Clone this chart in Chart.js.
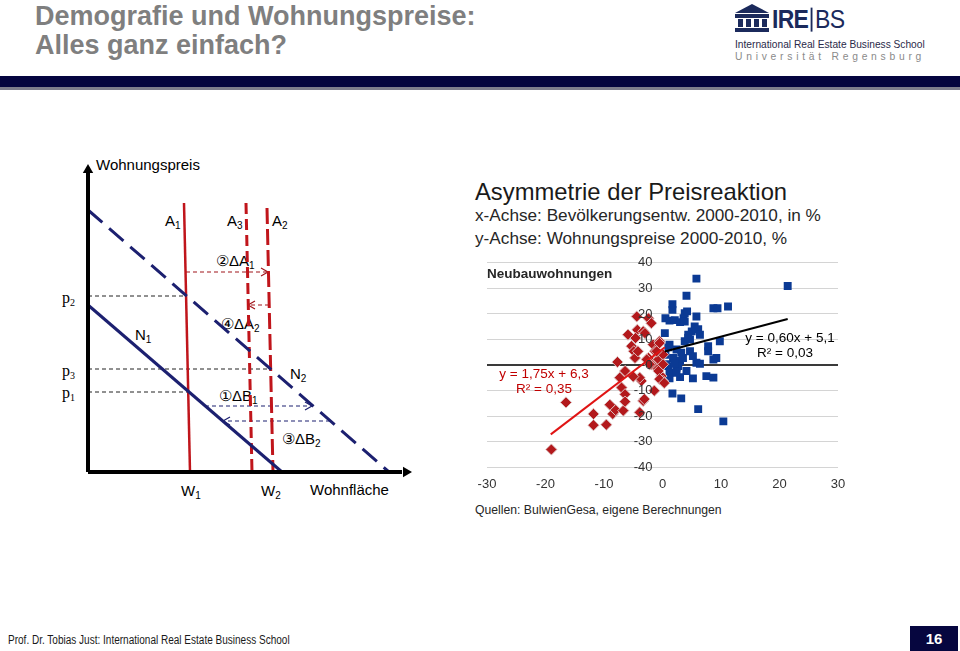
<!DOCTYPE html>
<html>
<head>
<meta charset="utf-8">
<script src="https://cdn.jsdelivr.net/npm/chart.js@4.4.1/dist/chart.umd.min.js"></script>
<style>
  html,body{margin:0;padding:0;background:#fff;}
  body{width:960px;height:651px;position:relative;overflow:hidden;font-family:"Liberation Sans",Arial,sans-serif;}
  .abs{position:absolute;white-space:nowrap;}
  .lb{position:absolute;white-space:nowrap;transform:translateY(-50%);font-size:15px;color:#000;line-height:1.15;}
  .lb sub{font-size:10px;vertical-align:-3px;line-height:0;}
  .serif{font-family:"Liberation Serif","Times New Roman",serif;}
</style>
</head>
<body>
<!-- header -->
<div class="lb" style="left:35px;top:17px;font-size:27px;font-weight:bold;color:#7f7f7f;">Demografie und Wohnungspreise:</div>
<div class="lb" style="left:35px;top:46px;font-size:27px;font-weight:bold;color:#7f7f7f;">Alles ganz einfach?</div>
<div class="abs" style="left:0;top:76px;width:960px;height:11px;background:#04043f;"></div>
<div class="abs" style="left:0;top:87px;width:960px;height:3px;background:#7d7d8d;"></div>

<!-- logo -->
<svg class="abs" style="left:733px;top:2px;" width="40" height="32" viewBox="0 0 40 32">
  <polygon points="2,11 19,2 36,11" fill="#1b2a5c"/>
  <rect x="2" y="12" width="34" height="4" fill="#1b2a5c"/>
  <rect x="5" y="17" width="5" height="8" fill="#1b2a5c"/>
  <rect x="13" y="17" width="5" height="8" fill="#1b2a5c"/>
  <rect x="21" y="17" width="5" height="8" fill="#1b2a5c"/>
  <rect x="29" y="17" width="5" height="8" fill="#1b2a5c"/>
  <rect x="2" y="26" width="34" height="4" fill="#1b2a5c"/>
</svg>
<div class="lb" style="left:772px;top:19px;font-size:25px;color:#1b2a5c;letter-spacing:-0.8px;transform:translateY(-50%) scaleX(0.92);transform-origin:left center;"><b>IRE</b><span style="display:inline-block;width:1.5px;height:24px;background:#1b2a5c;margin:0 3px;vertical-align:-4px;"></span>BS</div>
<div class="lb" style="left:735px;top:45px;font-size:10.2px;color:#2a2a4a;">International Real Estate Business School</div>
<div class="lb" style="left:735px;top:57px;font-size:10.3px;color:#8a8a8a;letter-spacing:3.75px;">Universität Regensburg</div>

<!-- left diagram labels -->
<div class="lb" style="left:96px;top:165px;">Wohnungspreis</div>
<div class="lb" style="left:165px;top:221px;">A<sub>1</sub></div>
<div class="lb" style="left:227px;top:221px;">A<sub>3</sub></div>
<div class="lb" style="left:272px;top:221px;">A<sub>2</sub></div>
<div class="lb" style="left:216px;top:261px;">②ΔA<sub>1</sub></div>
<div class="lb" style="left:221px;top:324px;">④ΔA<sub>2</sub></div>
<div class="lb" style="left:135px;top:335px;">N<sub>1</sub></div>
<div class="lb" style="left:219px;top:396px;">①ΔB<sub>1</sub></div>
<div class="lb" style="left:290px;top:374px;">N<sub>2</sub></div>
<div class="lb" style="left:282px;top:439px;">③ΔB<sub>2</sub></div>
<div class="lb" style="left:181px;top:491px;">W<sub>1</sub></div>
<div class="lb" style="left:261px;top:491px;">W<sub>2</sub></div>
<div class="lb" style="left:310px;top:490px;">Wohnfläche</div>
<div class="lb serif" style="left:62px;top:298px;font-size:16px;">p<sub>2</sub></div>
<div class="lb serif" style="left:62px;top:371px;font-size:16px;">p<sub>3</sub></div>
<div class="lb serif" style="left:62px;top:393px;font-size:16px;">p<sub>1</sub></div>

<!-- right panel texts -->
<div class="lb" style="left:475px;top:192px;font-size:23.8px;color:#1a1a1a;">Asymmetrie der Preisreaktion</div>
<div class="lb" style="left:475px;top:216px;font-size:17.2px;color:#262626;">x-Achse: Bevölkerungsentw. 2000-2010, in %</div>
<div class="lb" style="left:475px;top:239px;font-size:17.2px;color:#262626;">y-Achse: Wohnungspreise 2000-2010, %</div>
<div class="lb" style="left:475px;top:510px;font-size:12.2px;color:#262626;">Quellen: BulwienGesa, eigene Berechnungen</div>

<!-- charts -->
<div class="abs" style="left:40px;top:140px;width:390px;height:370px;"><canvas id="dg" width="390" height="370"></canvas></div>
<div class="abs" style="left:440px;top:245px;width:420px;height:256px;"><canvas id="sc" width="420" height="256"></canvas></div>

<!-- labels inside scatter -->
<div class="lb" style="left:487px;top:274px;font-size:13.5px;font-weight:bold;color:#262626;">Neubauwohnungen</div>
<div class="lb" style="left:544px;top:374px;font-size:13.5px;color:#c00000;transform:translate(-50%,-50%);">y = 1,75x + 6,3</div>
<div class="lb" style="left:544px;top:389px;font-size:13.5px;color:#c00000;transform:translate(-50%,-50%);">R² = 0,35</div>
<div class="lb" style="left:790px;top:338px;font-size:13.5px;color:#000;transform:translate(-50%,-50%);">y = 0,60x + 5,1</div>
<div class="lb" style="left:785px;top:353px;font-size:13.5px;color:#000;transform:translate(-50%,-50%);">R² = 0,03</div>

<!-- footer -->
<div class="lb" style="left:8px;top:641px;font-size:12px;color:#1a1a1a;transform:translateY(-50%) scaleX(0.835);transform-origin:left center;">Prof. Dr. Tobias Just: International Real Estate Business School</div>
<div class="abs" style="left:910px;top:626px;width:48px;height:25px;background:#06063f;color:#fff;font-weight:bold;font-size:15px;line-height:25px;text-align:center;">16</div>

<script>
// ---------------- scatter data ----------------
const xTicks = [-30, -20, -10, 0, 10, 20, 30];
const yTicks = [-40, -30, -20, -10, 0, 10, 20, 30, 40];

// Neubauwohnungen (red diamonds)
const redX = [-19.0,-16.5,-11.8,-11.8,-9.6,-9.0,-8.5,-8.0,-7.7,-7.3,-7.0,-6.7,-6.4,-6.4,-6.4,-5.9,-5.3,-4.9,-4.7,-4.4,-4.3,-4.6,-4.2,-3.9,-3.6,-3.3,-3.3,-3.0,-2.4,-1.9,-1.6,-1.4,-1.3,-1.0,-0.7,-0.5,-0.2,0.1,-2.4,-1.9,-3.9,-0.5,0.1,-1.0,-0.7,-0.5,0.3,-2.7,-2.2,0.1,-5.0,-3.1];
const redY = [-33.0,-14.6,-19.1,-23.5,-23.3,-15.5,-19.1,-17.6,1.2,-4.9,-8.8,-17.8,-2.3,-11.4,-14.3,11.9,7.4,5.4,2.8,19.0,13.8,10.6,5.4,-18.5,-6.2,13.2,-14.0,12.5,18.3,16.4,8.0,-10.0,5.4,-1.0,2.2,9.3,-4.3,-6.2,2.8,0.3,-4.9,8.6,4.1,5.4,-2.3,-5.5,-7.0,2.2,0.3,0.3,-4.5,-13.3];

// Bestand (blue squares)
const blueX = [5.8,21.4,4.1,1.7,1.7,8.7,9.4,11.2,5.8,0.5,1.2,2.1,3.0,3.6,3.8,3.8,4.2,5.5,5.0,6.1,0.4,4.4,6.4,1.2,3.8,4.7,4.4,7.8,9.8,7.8,9.2,8.7,2.4,3.2,4.7,5.2,1.8,3.0,5.8,6.4,1.0,2.4,4.1,1.2,3.0,5.2,7.5,8.7,1.2,2.4,1.0,0.7,2.7,1.7,3.2,6.1,10.4,2.1,3.5,0.5];
const blueY = [33.8,30.9,27.1,23.8,21.6,22.2,22.2,22.9,19.0,18.3,17.4,17.6,16.8,18.3,17.0,20.3,21.0,15.1,13.2,14.0,12.5,11.9,11.9,8.0,9.3,10.0,10.6,7.4,9.3,5.4,2.8,2.2,6.1,4.8,5.4,3.5,2.8,1.6,0.9,0.5,-0.4,-1.0,-2.3,-3.0,-4.7,-5.2,-4.3,-4.9,-5.2,-3.0,7.0,0.3,-0.4,-11.1,-13.0,-17.2,-22.0,0.5,2.8,4.0];

// trend line end points (as drawn)
const redTrendX = [-19.1, 0.4];
const redTrendY = [-27.1, 7.0];
const blackTrendX = [0.4, 21.4];
const blackTrendY = [5.3, 18.0];

// ---------------- diagram data (conceptual lines, diagram units) ----------------
const axisPrice = [[0,0],[0,300]];
const axisArea = [[0,0],[314,0]];
const demandN1 = [[0,167],[194,0]];
const demandN2 = [[0,262],[301,0]];
const supplyA1 = [[96,269],[102,0]];
const supplyA3 = [[158,269],[164,0]];
const supplyA2 = [[179,264],[185,0]];
const priceP2 = [[0,176],[97,176]];
const priceP3 = [[0,103],[182,103]];
const priceP1 = [[0,80],[100,80]];
const shiftA1 = [[98,200],[180,200]];
const shiftA2 = [[181,167],[160,167]];
const shiftB1 = [[117,66],[224,66]];
const shiftB2 = [[242,51],[135,51]];

const FONT = '"Liberation Sans", Arial, sans-serif';
const NAVY = '#1c2070';
const RED = '#c0151b';

const zip = (xs, ys) => xs.map((x, i) => ({x, y: ys[i]}));
const pts = arr => arr.map(p => ({x: p[0], y: p[1]}));

// ---------------- scatter chart ----------------
new Chart(document.getElementById('sc'), {
  type: 'scatter',
  data: {
    datasets: [
      {type:'line', data: zip(blackTrendX, blackTrendY), borderColor:'#000', borderWidth:2, pointRadius:0, fill:false},
      {type:'line', data: zip(redTrendX, redTrendY), borderColor:'#e01414', borderWidth:2, pointRadius:0, fill:false},
      {data: zip(redX, redY), pointStyle:'rectRot', pointRadius:5.6, backgroundColor:'#b3191c', borderColor:'rgba(220,195,195,0.95)', borderWidth:1},
      {data: zip(blueX, blueY), pointStyle:'rect', pointRadius:5.6, backgroundColor:'#0b3a94', borderWidth:0}
    ]
  },
  options: {
    responsive:false, animation:false, devicePixelRatio:1,
    layout:{padding:{left:47, right:22, top:16, bottom:0}},
    plugins:{legend:{display:false}, tooltip:{enabled:false}},
    scales:{
      x:{type:'linear', position:'bottom', min:xTicks[0], max:xTicks[xTicks.length-1],
         afterBuildTicks: a => { a.ticks = xTicks.map(v => ({value:v})); },
         grid:{display:false, drawTicks:false}, border:{display:false},
         ticks:{font:{family:FONT, size:13}, color:'#333', padding:9}},
      y:{type:'linear', position:{x:-1.7}, min:yTicks[0], max:yTicks[yTicks.length-1],
         afterBuildTicks: a => { a.ticks = yTicks.map(v => ({value:v})); },
         grid:{color: c => c.tick && c.tick.value === 0 ? '#3a3a3a' : '#d4d4d4',
               lineWidth: c => c.tick && c.tick.value === 0 ? 2 : 1, drawTicks:false},
         border:{display:false},
         ticks:{font:{family:FONT, size:13}, color:'#333', padding:10, z:1}}
    }
  }
});

// ---------------- diagram chart ----------------
const lineDs = (arr, color, width, dash) => ({data: pts(arr), showLine:true, borderColor:color, borderWidth:width,
  borderDash: dash || [], pointRadius:0, fill:false, clip:false, tension:0});
const chevron = (arr, color) => {
  const tip = arr[1], dir = Math.sign(arr[1][0] - arr[0][0]);
  return lineDs([[tip[0] - dir*7, tip[1] + 4], tip, [tip[0] - dir*7, tip[1] - 4]], color, 1.2);
};

new Chart(document.getElementById('dg'), {
  type: 'scatter',
  data: {
    datasets: [
      lineDs(axisPrice, '#000', 4),
      lineDs(axisArea, '#000', 4),
      {data: pts([[0,302]]), pointStyle:'triangle', pointRadius:6, rotation:0, backgroundColor:'#000', borderWidth:0, clip:false},
      {data: pts([[318,0]]), pointStyle:'triangle', pointRadius:6, rotation:90, backgroundColor:'#000', borderWidth:0, clip:false},
      lineDs(demandN1, NAVY, 3),
      lineDs(demandN2, NAVY, 3, [19,9]),
      lineDs(supplyA1, RED, 2.5),
      lineDs(supplyA3, RED, 3, [11,5]),
      lineDs(supplyA2, RED, 3, [16,5]),
      lineDs(priceP2, '#222', 1, [4,3]),
      lineDs(priceP3, '#222', 1, [4,3]),
      lineDs(priceP1, '#222', 1, [4,3]),
      lineDs(shiftA1, '#a0141a', 1.2, [4,3]), chevron(shiftA1, '#a0141a'),
      lineDs(shiftA2, '#a0141a', 1.2, [4,3]), chevron(shiftA2, '#a0141a'),
      lineDs(shiftB1, NAVY, 1.2, [4,3]), chevron(shiftB1, NAVY),
      lineDs(shiftB2, NAVY, 1.2, [4,3]), chevron(shiftB2, NAVY)
    ]
  },
  options: {
    responsive:false, animation:false, devicePixelRatio:1,
    layout:{padding:{left:48, right:20, top:25, bottom:38}},
    plugins:{legend:{display:false}, tooltip:{enabled:false}},
    scales:{
      x:{type:'linear', min:0, max:322, display:false},
      y:{type:'linear', min:0, max:307, display:false}
    }
  }
});
</script>
</body>
</html>
